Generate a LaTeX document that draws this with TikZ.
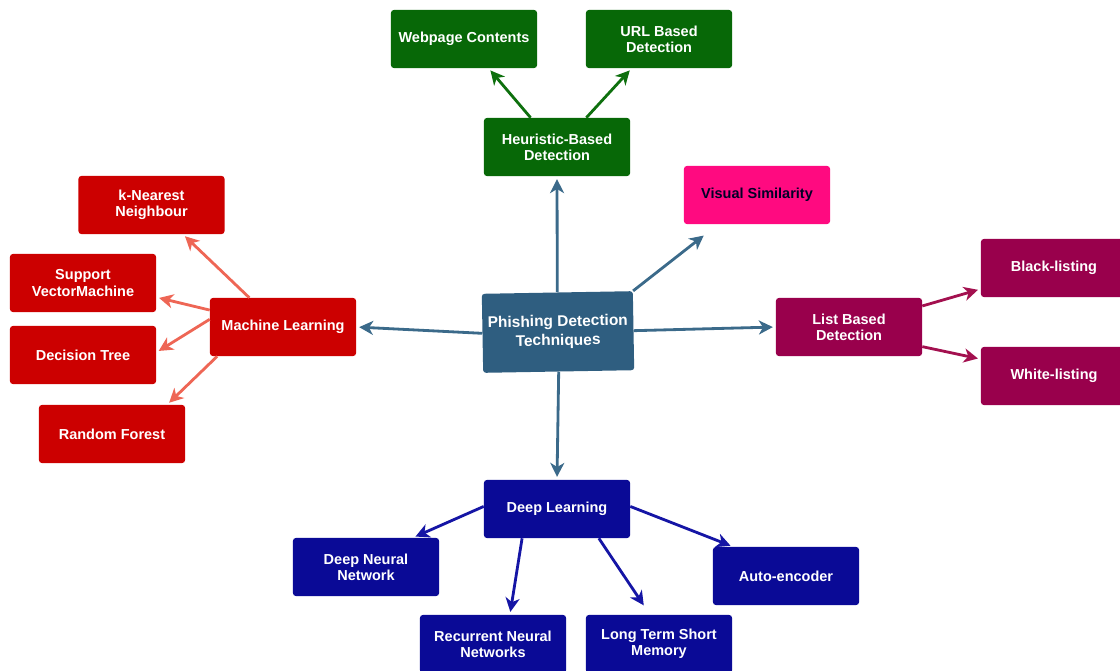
\documentclass[tikz,border=0pt]{standalone}
\usepackage{fontspec}
\setmainfont{Liberation Sans}
\usetikzlibrary{arrows.meta}
\definecolor{hubfill}{HTML}{2F5E80}
\definecolor{hubline}{HTML}{3B6A8A}
\definecolor{heurfill}{HTML}{076807}
\definecolor{heurline}{HTML}{0E700E}
\definecolor{mlfill}{HTML}{CC0000}
\definecolor{mlline}{HTML}{EE6655}
\definecolor{visfill}{HTML}{FF0A80}
\definecolor{listfill}{HTML}{99004C}
\definecolor{listline}{HTML}{A3104F}
\definecolor{dlfill}{HTML}{0A0A96}
\definecolor{dlline}{HTML}{1515A5}
\tikzset{
        box/.style={rectangle, rounded corners=2pt, align=center, text=white,
          minimum width=3.65cm, minimum height=1.45cm, inner sep=2pt,
          font=\fontsize{10.3}{11.6}\selectfont\bfseries},
        link/.style={line width=2pt, shorten >=2pt,
          -{Stealth[length=10pt,width=10pt,inset=3pt]}},
    }

\begin{document}
\begin{tikzpicture}[x=0.025cm, y=-0.025cm]
\useasboundingbox (0,0) rectangle (1120,671);
% hub
\node[box, fill=hubfill, minimum width=3.775cm, minimum height=1.975cm, rotate=1,
  font=\fontsize{11}{13.5}\selectfont\bfseries] (hub) at (558,332)
  {Phishing Detection\\Techniques};
% heuristic branch
\node[box, fill=heurfill] (heur) at (557,147) {Heuristic-Based\\Detection};
\node[box, fill=heurfill] (web)  at (464,39)  {Webpage Contents};
\node[box, fill=heurfill] (url)  at (659,39)  {URL Based\\Detection};
\node[box, fill=visfill, text=black!85!blue] (vis) at (757,195) {Visual Similarity};
% machine learning branch
\node[box, fill=mlfill] (ml)  at (283,327)   {Machine Learning};
\node[box, fill=mlfill] (knn) at (151.5,205) {k-Nearest\\Neighbour};
\node[box, fill=mlfill] (svm) at (83,283)    {Support\\VectorMachine};
\node[box, fill=mlfill] (dt)  at (83,355)    {Decision Tree};
\node[box, fill=mlfill] (rf)  at (112,434)   {Random Forest};
% list branch
\node[box, fill=listfill] (list)  at (849,327)  {List Based\\Detection};
\node[box, fill=listfill] (black) at (1054,268) {Black-listing};
\node[box, fill=listfill] (white) at (1054,376) {White-listing};
% deep learning branch
\node[box, fill=dlfill] (dl)   at (557,509) {Deep Learning};
\node[box, fill=dlfill] (dnn)  at (366,567) {Deep Neural\\Network};
\node[box, fill=dlfill] (rnn)  at (493,644) {Recurrent Neural\\Networks};
\node[box, fill=dlfill] (ltsm) at (659,644) {Long Term Short\\Memory};
\node[box, fill=dlfill] (auto) at (786,576) {Auto-encoder};

\begin{scope}[hubline]
  \draw[link] (hub.north) -- (heur.south);
  \draw[link] (hub.south) -- (dl.north);
  \draw[link] (hub.west)  -- (ml.east);
  \draw[link] (hub.east)  -- (list.west);
  \draw[link, shorten >=13pt] (hub.north east) -- (vis.-143.5);
\end{scope}
\foreach \a/\b in {heur.132/web.-50, heur.45/url.-133}
  \draw[link, heurline] (\a) -- (\b);
\foreach \a/\b in {ml.139/knn.-43, ml.167/svm.-11, ml.174/dt.2, ml.-156/rf.28}
  \draw[link, mlline] (\a) -- (\b);
\foreach \a/\b in {list.16/black.-164, list.-15/white.167}
  \draw[link, listline] (\a) -- (\b);
\foreach \a/\b in {dl.178/dnn.32.5, dl.-140/rnn.60, dl.2/auto.151}
  \draw[link, dlline] (\a) -- (\b);
\draw[link, dlline, shorten >=8pt] (dl.-35) -- (ltsm.107);
\end{tikzpicture}
\end{document}
